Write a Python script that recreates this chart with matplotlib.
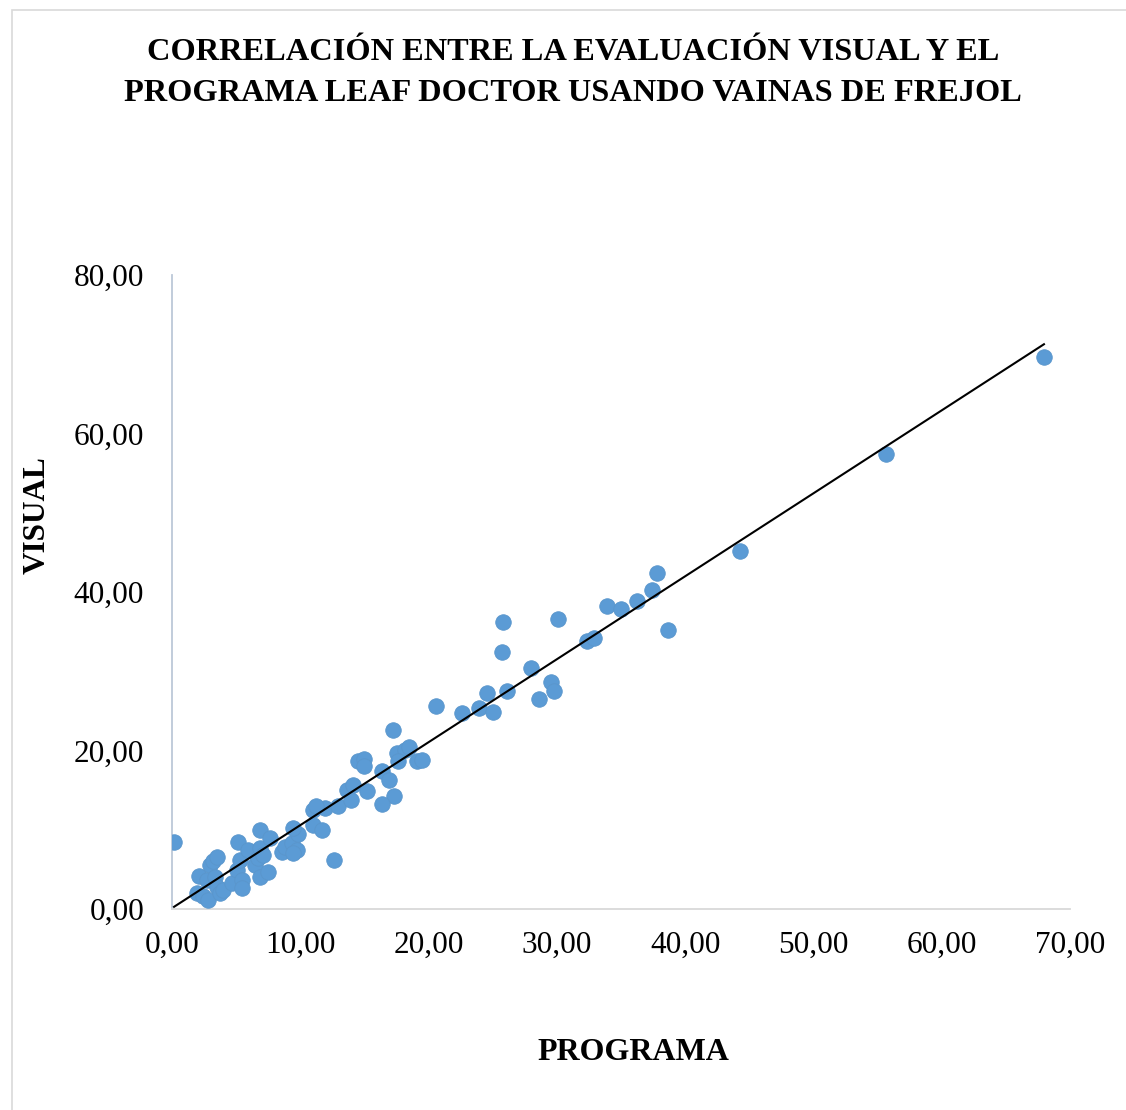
import numpy as np
import matplotlib
matplotlib.use("Agg")
import matplotlib.pyplot as plt
from matplotlib.patches import Rectangle

# Porcentaje de severidad estimado por el programa (eje X) y por evaluación visual (eje Y)
programa = [
    0.16, 1.95, 2.10, 2.42, 2.73, 2.81, 2.96, 3.20, 3.51, 3.35,
    3.51, 3.74, 3.98, 4.68, 5.07, 5.30, 5.46, 5.46, 5.14, 5.92,
    6.47, 6.70, 6.86, 7.09, 6.86, 7.48, 6.86, 7.64, 8.57, 8.81,
    9.35, 9.74, 9.43, 9.82, 9.43, 10.99, 11.93, 10.99, 11.69, 12.63,
    11.22, 12.94, 13.64, 14.11, 13.95, 15.20, 14.50, 14.96, 14.96, 16.37,
    16.91, 17.30, 16.37, 17.23, 17.54, 18.16, 18.47, 17.61, 19.10, 19.49,
    20.58, 22.60, 23.93, 24.55, 25.02, 25.72, 25.80, 26.11, 27.98, 28.61,
    29.54, 29.77, 30.09, 32.35, 32.89, 33.90, 35.00, 36.24, 37.41, 37.80,
    38.66, 44.27, 55.65, 67.97,
]
visual = [
    8.45, 2.02, 4.16, 1.64, 3.66, 1.14, 5.55, 6.06, 6.56, 4.04,
    2.78, 2.02, 2.40, 3.28, 4.92, 6.18, 3.66, 2.65, 8.45, 7.44,
    5.55, 6.44, 7.70, 6.81, 4.04, 4.67, 9.97, 8.96, 7.19, 7.82,
    8.33, 7.44, 7.07, 9.46, 10.22, 12.49, 12.74, 10.60, 9.97, 6.18,
    13.00, 13.00, 15.02, 15.65, 13.75, 14.89, 18.68, 18.93, 18.04, 17.41,
    16.28, 14.26, 13.25, 22.59, 19.68, 20.06, 20.44, 18.68, 18.68, 18.80,
    25.62, 24.73, 25.36, 27.26, 24.86, 32.43, 36.21, 27.51, 30.41, 26.50,
    28.64, 27.51, 36.59, 33.82, 34.20, 38.23, 37.85, 38.86, 40.25, 42.40,
    35.20, 45.17, 57.41, 69.65,
]

x_ticks = [0, 10, 20, 30, 40, 50, 60, 70]
y_ticks = [0, 20, 40, 60, 80]

titulo = "CORRELACIÓN ENTRE LA EVALUACIÓN VISUAL Y EL\nPROGRAMA LEAF DOCTOR USANDO VAINAS DE FREJOL"

plt.rcParams["font.family"] = ["Liberation Serif", "DejaVu Serif"]

fig = plt.figure(figsize=(11.26, 11.10), dpi=100)

# marco del gráfico
fig.patches.append(Rectangle((12 / 1126, -0.01), 1.1, 1 - 10 / 1110 + 0.01,
                             transform=fig.transFigure, fill=False,
                             edgecolor="#D9D9D9", linewidth=1.2))

ax = fig.add_axes([172 / 1126, 1 - 909 / 1110, 898 / 1126, 634 / 1110])

x = np.array(programa)
y = np.array(visual)
ax.scatter(x, y, s=125, color="#5B9BD5", edgecolors="#5A96CC", linewidths=0.6, zorder=3)

# línea de tendencia lineal
m, b = np.polyfit(x, y, 1)
xs = np.array([x.min(), x.max()])
ax.plot(xs, m * xs + b, color="black", linewidth=1.5, zorder=4)

ax.set_xlim(0, 70)
ax.set_ylim(0, 80)
ax.set_xticks(x_ticks)
ax.set_yticks(y_ticks)
fmt = lambda v: f"{v:.2f}".replace(".", ",")
ax.set_xticklabels([fmt(v) for v in x_ticks])
ax.set_yticklabels([fmt(v) for v in y_ticks])
ax.tick_params(axis="both", length=0, labelsize=22.5)
ax.tick_params(axis="x", pad=16)
ax.tick_params(axis="y", pad=20)

for s in ["top", "right"]:
    ax.spines[s].set_visible(False)
ax.spines["left"].set_color("#BCC8D8")
ax.spines["bottom"].set_color("#D9D9D9")
ax.spines["left"].set_linewidth(1.3)
ax.spines["bottom"].set_linewidth(1.3)

fig.text(573 / 1126, 1 - 73 / 1110, titulo, ha="center", va="center",
         fontsize=23.3, fontweight="bold", linespacing=1.52)
fig.text(633 / 1126, 1 - 1052 / 1110, "PROGRAMA", ha="center", va="center",
         fontsize=23, fontweight="bold")
fig.text(37 / 1126, 1 - 515 / 1110, "VISUAL", ha="center", va="center",
         rotation=90, fontsize=22.5, fontweight="bold")

fig.savefig("out.png", dpi=100, facecolor="white")
